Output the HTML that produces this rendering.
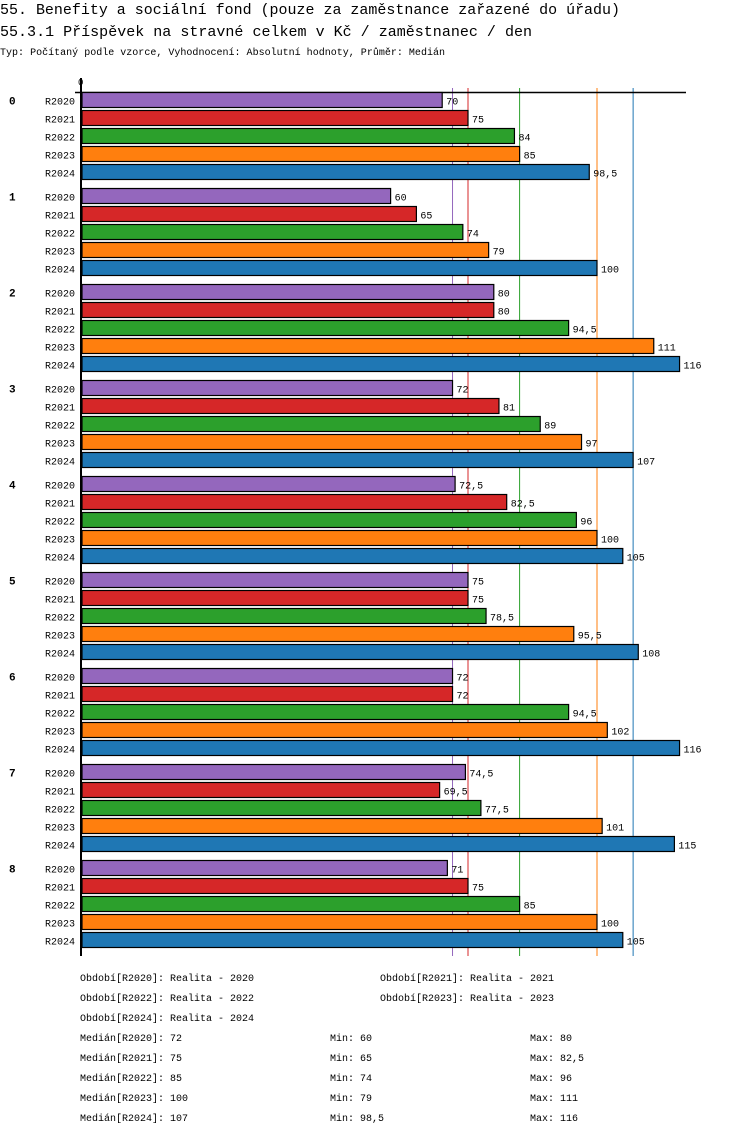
<!DOCTYPE html>
<html><head><meta charset="utf-8"><style>
body{margin:0;background:#fff;width:750px;height:1136px;overflow:hidden;font-family:"Liberation Mono",monospace;}
svg text{font-family:"Liberation Mono","DejaVu Sans Mono",monospace;}
</style></head><body>
<svg id="chart" width="750" height="1136" xmlns="http://www.w3.org/2000/svg">
<text x="0" y="14" font-size="15" textLength="620" lengthAdjust="spacingAndGlyphs">55. Benefity a sociální fond (pouze za zaměstnance zařazené do úřadu)</text>
<text x="0" y="36" font-size="15" textLength="532" lengthAdjust="spacingAndGlyphs">55.3.1 Příspěvek na stravné celkem v Kč / zaměstnanec / den</text>
<text x="0" y="55" font-size="10" textLength="445" lengthAdjust="spacingAndGlyphs">Typ: Počítaný podle vzorce, Vyhodnocení: Absolutní hodnoty, Průměr: Medián</text>
<g id="plot"></g>
<g id="footer"></g>
</svg>
<script>
const groups = ["0","1","2","3","4","5","6","7","8"];
const series = ["R2020","R2021","R2022","R2023","R2024"];
const colors = ["#9467bd","#d62728","#2ca02c","#ff7f0e","#1f77b4"];
const v2020 = [70,60,80,72,72.5,75,72,74.5,71];
const v2021 = [75,65,80,81,82.5,75,72,69.5,75];
const v2022 = [84,74,94.5,89,96,78.5,94.5,77.5,85];
const v2023 = [85,79,111,97,100,95.5,102,101,100];
const v2024 = [98.5,100,116,107,105,108,116,115,105];
const medians = [72,75,85,100,107];
const mins = ["60","65","74","79","98,5"];
const maxs = ["80","82,5","96","111","116"];
const medLabels = ["72","75","85","100","107"];
const values = [v2020,v2021,v2022,v2023,v2024];

const NS="http://www.w3.org/2000/svg";
const plot=document.getElementById('plot');
const x0=81, scale=5.16;
const xs=v=>x0+v*scale;
const groupTop=g=>92.5+g*96;
const barY=(g,s)=>groupTop(g)+s*18;
function mk(tag,attrs,parent,text){const e=document.createElementNS(NS,tag);for(const k in attrs)e.setAttribute(k,attrs[k]);if(text!==undefined)e.textContent=text;parent.appendChild(e);return e;}
const fmt=v=>String(v).replace('.',',');

// median lines
medians.forEach((m,i)=>{
  const l=mk('line',{x1:xs(m),x2:xs(m),y1:88,y2:956,stroke:colors[i],'stroke-width':1},plot);
  
  
});
// axes
const ax=mk('line',{x1:75,x2:686,y1:92.5,y2:92.5,stroke:'#000','stroke-width':1.5},plot);


const ay=mk('line',{x1:81,x2:81,y1:78,y2:956,stroke:'#000','stroke-width':2},plot);


const z=mk('text',{x:78,y:85,'font-size':9},plot,'0');



groups.forEach((gname,g)=>{
  const gl=mk('text',{x:9,y:groupTop(g)+12,'font-size':11,'font-weight':'bold'},plot,gname);
  
  
  series.forEach((s,si)=>{
    const y=barY(g,si), v=values[si][g];
    const lab=mk('text',{x:75,y:y+12,'font-size':10,'text-anchor':'end'},plot,s);
    
    
    const r=mk('rect',{x:82,y:y,width:xs(v)-82,height:15,fill:colors[si],stroke:'#000','stroke-width':1.2},plot);
    
    
    const t=mk('text',{x:xs(v)+4,y:y+12,'font-size':10},plot,fmt(v));
    
    
  });
});

const footer=document.getElementById('footer');
const per=[["Období[R2020]: Realita - 2020",80,977],["Období[R2021]: Realita - 2021",380,977],["Období[R2022]: Realita - 2022",80,997],["Období[R2023]: Realita - 2023",380,997],["Období[R2024]: Realita - 2024",80,1017]];
per.forEach(p=>{
  const t=mk('text',{x:p[1],y:p[2]+4,'font-size':10},footer,p[0]);
  
  
});
series.forEach((s,i)=>{
  const y=1041+i*20;
  const a=mk('text',{x:80,y:y,'font-size':10},footer,'Medián['+s+']: '+medLabels[i]);
  
  
  const b=mk('text',{x:330,y:y,'font-size':10},footer,'Min: '+mins[i]);
  
  
  const c=mk('text',{x:530,y:y,'font-size':10},footer,'Max: '+maxs[i]);
  
  
});
</script>
</body></html>
